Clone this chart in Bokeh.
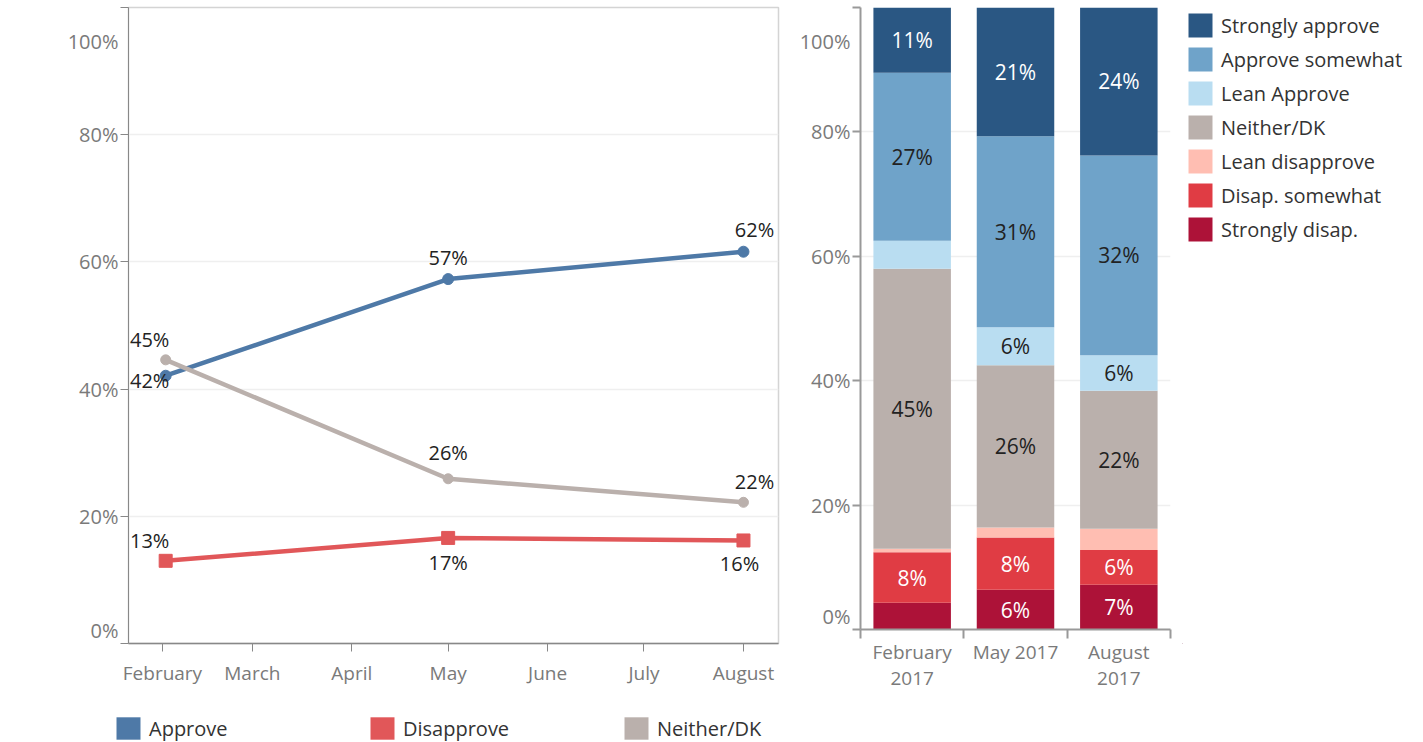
import pandas as pd
from bokeh.plotting import figure
from bokeh.layouts import row, column
from bokeh.models import (ColumnDataSource, FixedTicker, Range1d, Legend, LegendItem,
                          DatetimeTickFormatter, PrintfTickFormatter)
from bokeh.core.properties import value
from bokeh.embed import file_html
from bokeh.resources import INLINE

# ---------------- data: line chart ----------------
survey_dates = ["2017-02-02", "2017-05-01", "2017-08-01"]
approve = [42.1, 57.3, 61.6]
disapprove = [13.0, 16.6, 16.2]
neither = [44.6, 25.9, 22.2]
line_series = ["Approve", "Disapprove", "Neither/DK"]
month_starts = ["2017-02-01", "2017-03-01", "2017-04-01", "2017-05-01",
                "2017-06-01", "2017-07-01", "2017-08-01"]
month_names = ["February", "March", "April", "May", "June", "July", "August"]
pct_ticks = [0, 20, 40, 60, 80, 100]

# ---------------- data: stacked bars ----------------
waves = ["February 2017", "May 2017", "August 2017"]
wave_tick_labels = ["February\n2017", "May 2017", "August\n2017"]
segments = ["Strongly disap.", "Disap. somewhat", "Lean disapprove", "Neither/DK",
            "Lean Approve", "Approve somewhat", "Strongly approve"]
strongly_disap = [4.3, 6.4, 7.2]
disap_somewhat = [8.1, 8.4, 5.6]
lean_disapprove = [0.6, 1.6, 3.4]
neither_dk = [45.0, 26.1, 22.2]
lean_approve = [4.5, 6.1, 5.7]
approve_somewhat = [27.0, 30.7, 32.1]
strongly_approve = [10.7, 20.7, 24.1]

# ---------------- styles ----------------
FONT = "Open Sans"
AXIS_GREY = "#7a7a7a"
TEXT_DARK = "#222222"
LINE_COLORS = ["#4e79a7", "#e15759", "#bab0ac"]
SEG_COLORS = ["#ad1238", "#e03c44", "#ffbeb2", "#bab0ac", "#b9ddf1", "#6fa3c9", "#2a5783"]
SEG_TEXT = ["white", "white", TEXT_DARK, TEXT_DARK, TEXT_DARK, TEXT_DARK, "white"]
TOP, BOTTOM = 7, 62


def style_axis(ax, size):
    ax.major_label_text_font = FONT
    ax.major_label_text_font_size = size
    ax.major_label_text_color = AXIS_GREY


def pct_axis(ax, line_height, color, width):
    ax.ticker = FixedTicker(ticks=pct_ticks)
    ax.formatter = PrintfTickFormatter(format="%d%%")
    # edge labels nudged inside the plot area, as in the original
    ax.major_label_overrides = {pct_ticks[0]: f"{pct_ticks[0]}%\n",
                                pct_ticks[-1]: f"\u00a0\n{pct_ticks[-1]}%"}
    ax.major_label_text_line_height = line_height
    ax.major_tick_out = 8
    ax.major_tick_in = 0
    ax.minor_tick_out = 0
    ax.minor_tick_in = 0
    ax.major_tick_line_color = color
    ax.major_tick_line_width = width
    ax.axis_line_color = color
    ax.axis_line_width = width
    ax.major_label_standoff = 2
    style_axis(ax, "20px")


def legend_figure(width, height, names, colors, **borders):
    f = figure(width=width, height=height, x_range=Range1d(0, 1), y_range=Range1d(0, 1),
               x_axis_location=None, y_axis_location=None, output_backend="svg",
               toolbar_location=None, **borders)
    f.grid.visible = False
    f.outline_line_color = None
    items = []
    for n, c in zip(names, colors):
        # proxy glyph kept outside the visible range; only its legend swatch shows
        r = f.vbar(x=[-10], top=[-10], width=1, fill_color=c, line_color=None)
        items.append(LegendItem(label=n, renderers=[r]))
    return f, items


# ================= left: line chart =================
x_start = pd.Timestamp(month_starts[0]) - pd.Timedelta(hours=254)
x_end = pd.Timestamp(month_starts[-1]) + pd.Timedelta(hours=262)

left = figure(width=790, height=645 + BOTTOM, x_axis_type="datetime",
              x_range=Range1d(x_start.to_pydatetime(), x_end.to_pydatetime()),
              y_range=Range1d(0, 100),
              min_border_left=128, min_border_right=12, min_border_top=TOP,
              min_border_bottom=BOTTOM, output_backend="svg", toolbar_location=None)
left.outline_line_color = "#d4d4d4"
left.outline_line_width = 1.5
left.xgrid.visible = False
left.ygrid.ticker = FixedTicker(ticks=pct_ticks[1:-1])
left.ygrid.grid_line_color = "#efefef"
left.ygrid.grid_line_width = 1.5

xa = left.xaxis[0]
xa.ticker = FixedTicker(ticks=[pd.Timestamp(m).value / 1e6 for m in month_starts])
xa.formatter = DatetimeTickFormatter(days="%B", months="%B")
xa.major_tick_out = 8
xa.major_tick_in = 0
xa.minor_tick_out = 0
xa.minor_tick_in = 0
xa.major_tick_line_color = "#888888"
xa.axis_line_color = "#888888"
xa.axis_line_width = 1.5
xa.major_label_standoff = 8
style_axis(xa, "19px")

pct_axis(left.yaxis[0], 1.0, "#888888", 1)

dates = pd.to_datetime(survey_dates)
series_vals = [approve, disapprove, neither]
markers = ["circle", "square", "circle"]
marker_sizes = [11, 13, 10]
# label offsets (screen px) per series and point
label_dx = [[-16, 0, 11], [-16, 0, -4], [-16, 0, 11]]
label_dy = [[5, -22, -22], [-20, 25, 23], [-20, -26, -21]]

for name, vals, col, mk, ms, dx, dy in zip(line_series, series_vals, LINE_COLORS, markers,
                                           marker_sizes, label_dx, label_dy):
    src = ColumnDataSource(dict(x=dates, y=vals, label=[f"{round(v)}%" for v in vals],
                                dx=dx, dy=dy))
    left.line("x", "y", source=src, line_color=col, line_width=4.5, line_join="round")
    left.scatter("x", "y", source=src, marker=mk, size=ms, fill_color=col, line_color=col)
    left.text("x", "y", text="label", x_offset="dx", y_offset="dy", source=src,
              text_align="center", text_baseline="middle", text_font=value(FONT),
              text_font_size="20px", text_color=TEXT_DARK)

# ================= right: stacked bars =================
right = figure(width=392, height=631 + BOTTOM, x_range=Range1d(0, len(waves)),
               y_range=Range1d(0, 100),
               min_border_left=70, min_border_right=12, min_border_top=TOP,
               min_border_bottom=BOTTOM, output_backend="svg", toolbar_location=None)
right.outline_line_color = None
right.xgrid.visible = False
right.ygrid.ticker = FixedTicker(ticks=pct_ticks[1:])
right.ygrid.grid_line_color = "#efefef"
right.ygrid.grid_line_width = 1.5

seg_values = [strongly_disap, disap_somewhat, lean_disapprove, neither_dk,
              lean_approve, approve_somewhat, strongly_approve]
centers = [i + 0.5 for i in range(len(waves))]
data = dict(x=centers)
for name, vals in zip(segments, seg_values):
    data[name] = vals
bsrc = ColumnDataSource(data)
right.vbar_stack(segments, x="x", width=0.75, fill_color=SEG_COLORS,
                 line_color=None, source=bsrc)

lx, ly, lt, lc = [], [], [], []
for i, c in enumerate(centers):
    base = 0.0
    for vals, tcol in zip(seg_values, SEG_TEXT):
        v = vals[i]
        if v >= 5:
            lx.append(c)
            ly.append(base + v / 2)
            lt.append(f"{round(v)}%")
            lc.append(tcol)
        base += v
right.text(x=lx, y=ly, text=lt, text_color=lc, text_align="center", text_baseline="middle",
           text_font=value(FONT), text_font_size="21px")

rxa = right.xaxis[0]
rxa.ticker = FixedTicker(ticks=centers, minor_ticks=list(range(len(waves) + 1)))
rxa.major_label_overrides = {c: lab for c, lab in zip(centers, wave_tick_labels)}
rxa.major_tick_out = 0
rxa.major_tick_in = 0
rxa.minor_tick_out = 9
rxa.minor_tick_in = 0
rxa.minor_tick_line_color = "#999999"
rxa.minor_tick_line_width = 2
rxa.axis_line_color = "#999999"
rxa.axis_line_width = 2
rxa.major_label_standoff = 0
rxa.major_label_text_line_height = 1.0
style_axis(rxa, "19px")

pct_axis(right.yaxis[0], 1.0, "#999999", 2)

# ================= legends =================
rleg, r_items = legend_figure(241, 645 + BOTTOM, segments[::-1], SEG_COLORS[::-1],
                              min_border_left=0, min_border_right=0,
                              min_border_top=TOP, min_border_bottom=BOTTOM)
rleg.add_layout(Legend(items=r_items, orientation="vertical", location="top_left",
                       glyph_width=30, glyph_height=30, label_standoff=6, spacing=4,
                       padding=0, margin=3, border_line_alpha=0, background_fill_alpha=0,
                       label_text_font=FONT, label_text_font_size="20px",
                       label_text_color="#333333"))

lleg, l_items = legend_figure(1423, 742 - 645 - BOTTOM, line_series, LINE_COLORS,
                              min_border_left=113, min_border_right=0,
                              min_border_top=0, min_border_bottom=0)
lleg.add_layout(Legend(items=l_items, orientation="horizontal", location="bottom_left",
                       glyph_width=30, glyph_height=28, label_standoff=6, label_width=218,
                       spacing=0, padding=0, margin=0, border_line_alpha=0,
                       background_fill_alpha=0, label_text_font=FONT,
                       label_text_font_size="20px", label_text_color="#333333"))

p = column(row(left, right, rleg), lleg)
open("out.html", "w").write(file_html(p, INLINE))
